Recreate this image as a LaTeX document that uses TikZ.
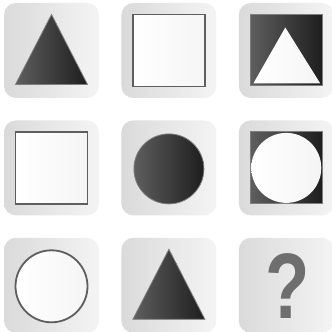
\documentclass[tikz,border=0pt]{standalone}
\usepackage{fontspec}
\setmainfont{Liberation Sans}
\usepackage{tikz}
\usetikzlibrary{positioning,calc}
\definecolor{puzTileL}{HTML}{DADADA}
\definecolor{puzTileR}{HTML}{F4F4F4}
\definecolor{puzDarkA}{HTML}{5E5E5E}
\definecolor{puzDarkB}{HTML}{1E1E1E}
\definecolor{puzEdge}{HTML}{5E5E5E}
\definecolor{puzMark}{HTML}{6E6E6E}
\tikzset{
  puztile/.style={rounded corners=12pt, minimum width=95pt, minimum height=95pt,
                  inner sep=0pt, left color=puzTileL, right color=puzTileR},
  darkfig/.style={draw=puzEdge!80, line width=0.8pt, left color=puzDarkA, right color=puzDarkB},
  whitefig/.style={draw=puzEdge, line width=1.8pt, left color=white, right color=black!4},
  qmark/.style={font=\bfseries\fontsize{93}{93}\selectfont, text=puzMark, inner sep=0pt},
}

\begin{document}
\begin{tikzpicture}[x=1pt, y=1pt, node distance=22pt]
    \useasboundingbox (0,0) rectangle (332,332);
    % the nine tiles
    \node[puztile] (t1) at (51.5,281.5) {};
    \node[puztile, right=of t1] (t2) {};
    \node[puztile, right=of t2] (t3) {};
    \node[puztile, below=of t1] (t4) {};
    \node[puztile, right=of t4] (t5) {};
    \node[puztile, right=of t5] (t6) {};
    \node[puztile, below=of t4] (t7) {};
    \node[puztile, right=of t7] (t8) {};
    \node[puztile, right=of t8] (t9) {};
    % row 1
    \begin{scope}[shift={(t1.center)}]
      \draw[darkfig] (0,36) -- (36,-34) -- (-36,-34) -- cycle;
    \end{scope}
    \begin{scope}[shift={(t2.center)}]
      \draw[whitefig] (-36,-36) rectangle (36,36);
    \end{scope}
    \begin{scope}[shift={(t3.center)}]
      \draw[darkfig] (-36,-35) rectangle (36,36);
      \draw[whitefig, draw=none] (-1,23) -- (34,-33) -- (-33,-33) -- cycle;
    \end{scope}
    % row 2
    \begin{scope}[shift={(t4.center)}]
      \draw[whitefig] (-36,-36) rectangle (36,36);
    \end{scope}
    \begin{scope}[shift={(t5.center)}]
      \draw[darkfig] (0,-1) circle (35);
    \end{scope}
    \begin{scope}[shift={(t6.center)}]
      \draw[darkfig] (-36,-36) rectangle (36,36);
      \draw[whitefig, draw=none] (0,0) circle (35);
    \end{scope}
    % row 3
    \begin{scope}[shift={(t7.center)}]
      \draw[whitefig] (0,-1) circle (36);
    \end{scope}
    \begin{scope}[shift={(t8.center)}]
      \draw[darkfig] (0,36) -- (36,-34) -- (-36,-34) -- cycle;
    \end{scope}
    \node[qmark, xscale=0.78] (qm) at ($(t9)+(1,-1)$) {?};
  \end{tikzpicture}
\end{document}
